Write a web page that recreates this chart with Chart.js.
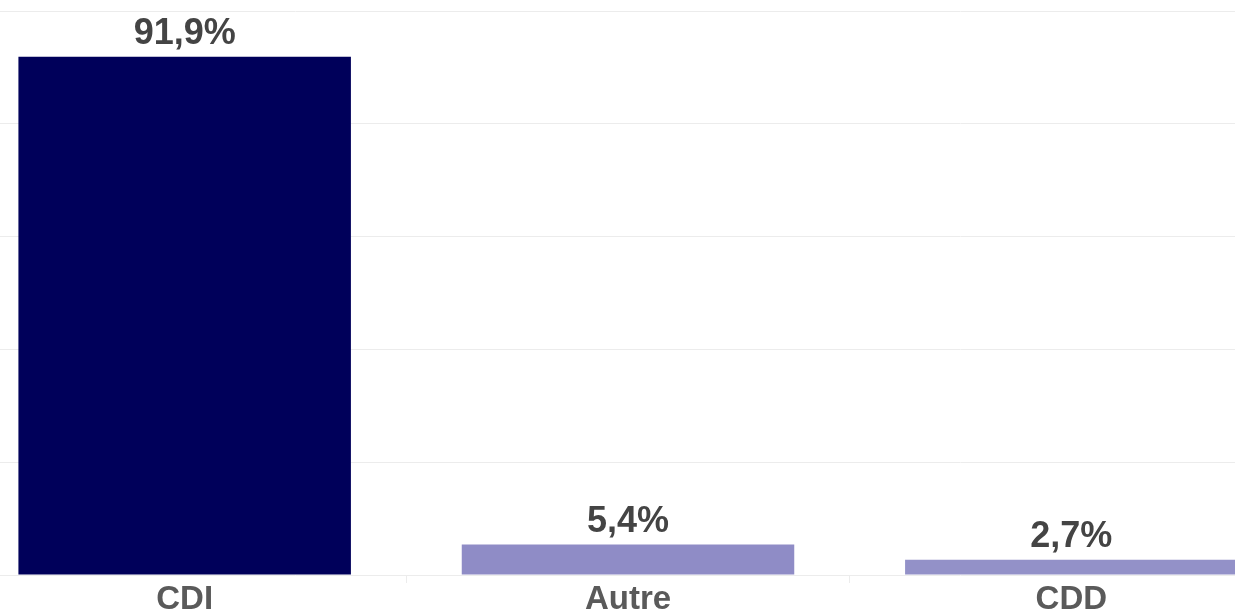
<!DOCTYPE html>
<html>
<head>
<meta charset="utf-8">
<script src="https://cdn.jsdelivr.net/npm/chart.js@4"></script>
<style>
  html, body { margin: 0; padding: 0; background: #fff; overflow: hidden; }
  #wrap { position: absolute; left: -37px; top: 0; width: 1330px; height: 616px; }
</style>
</head>
<body>
<div id="wrap"><canvas id="chart"></canvas></div>
<script>
const categories = ['CDI', 'Autre', 'CDD'];
const values = [91.9, 5.4, 2.7];
const barColors = ['#00005a', '#8f8cc6', '#9391c8'];
const yTicks = [0, 20, 40, 60, 80, 100];

// labels "91,9%" above each bar
const valueLabels = {
  id: 'valueLabels',
  afterDatasetsDraw(chart) {
    const ctx = chart.ctx;
    const meta = chart.getDatasetMeta(0);
    ctx.save();
    ctx.font = 'bold 36px "Liberation Sans", Arial, sans-serif';
    ctx.fillStyle = '#444444';
    ctx.textAlign = 'center';
    ctx.textBaseline = 'alphabetic';
    meta.data.forEach((bar, i) => {
      const txt = values[i].toFixed(1).replace('.', ',') + '%';
      ctx.fillText(txt, bar.x, bar.y - 13);
    });
    ctx.restore();
  }
};

new Chart(document.getElementById('chart'), {
  type: 'bar',
  data: {
    labels: categories,
    datasets: [{
      data: values,
      backgroundColor: barColors,
      borderWidth: 0,
      barPercentage: 0.75,
      categoryPercentage: 1
    }]
  },
  options: {
    responsive: true,
    maintainAspectRatio: false,
    animation: false,
    layout: { padding: { top: 11, left: 0, right: 0, bottom: 0 } },
    plugins: { legend: { display: false }, tooltip: { enabled: false } },
    scales: {
      x: {
        offset: true,
        border: { display: false },
        grid: { offset: true, drawOnChartArea: false, tickLength: 8, color: '#ececec' },
        ticks: {
          padding: 0,
          color: '#5a5a5a',
          font: { family: '"Liberation Sans", Arial, sans-serif', size: 33, weight: 'bold', lineHeight: 1 }
        }
      },
      y: {
        min: 0,
        max: 100,
        afterBuildTicks(scale) { scale.ticks = yTicks.map(v => ({ value: v })); },
        border: { display: false },
        grid: { drawTicks: false, color: '#ececec' },
        ticks: { display: false }
      }
    }
  },
  plugins: [valueLabels]
});
</script>
</body>
</html>
